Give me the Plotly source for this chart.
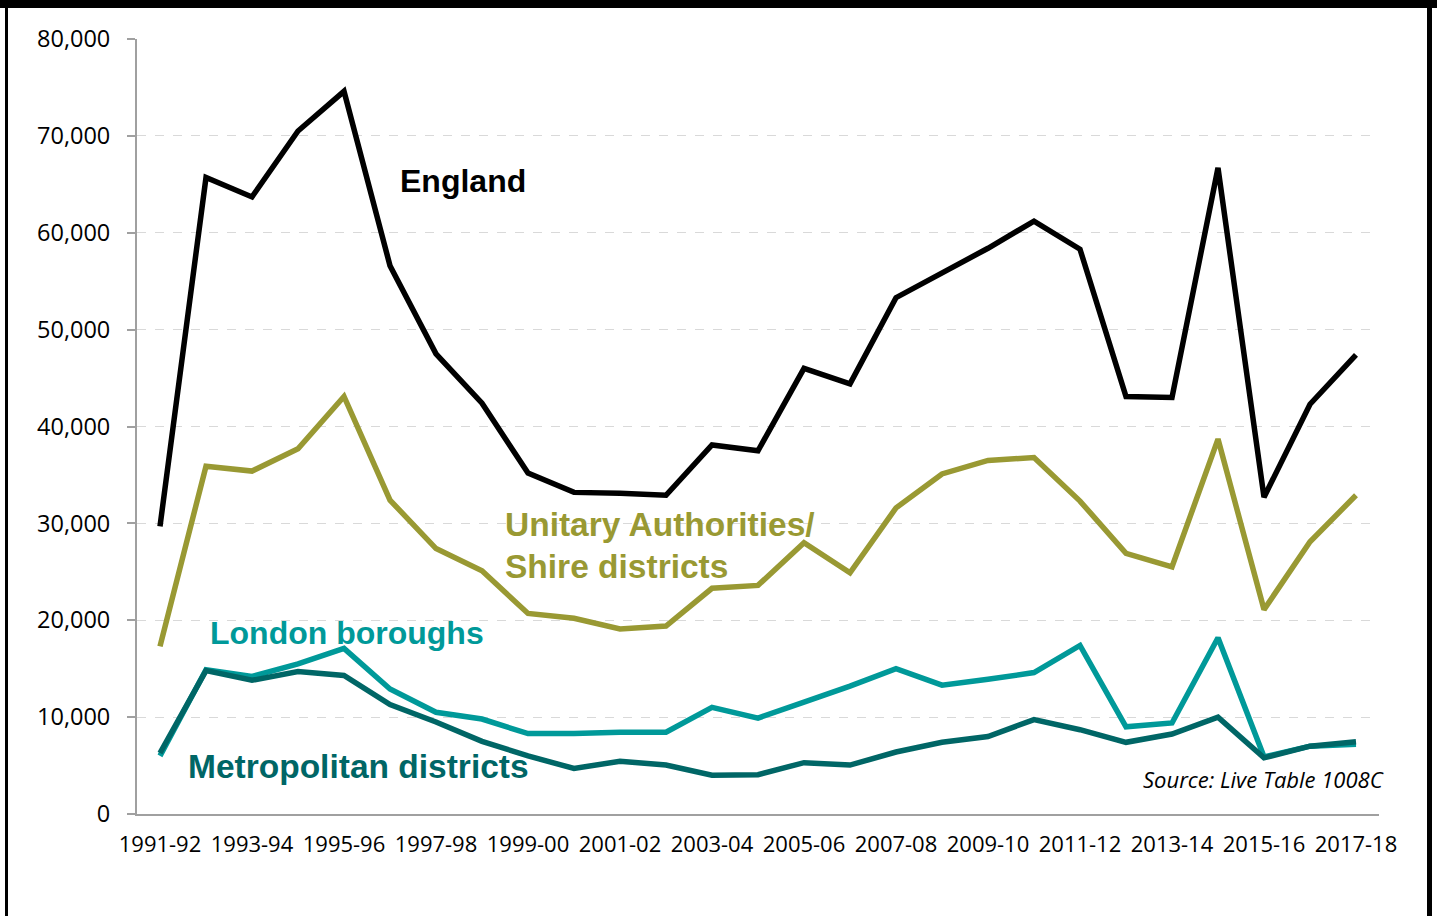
import plotly.graph_objects as go

years = ["1991-92", "1992-93", "1993-94", "1994-95", "1995-96", "1996-97", "1997-98",
         "1998-99", "1999-00", "2000-01", "2001-02", "2002-03", "2003-04", "2004-05",
         "2005-06", "2006-07", "2007-08", "2008-09", "2009-10", "2010-11", "2011-12",
         "2012-13", "2013-14", "2014-15", "2015-16", "2016-17", "2017-18"]

england = [29700, 65700, 63700, 70500, 74600, 56600, 47500, 42400, 35200, 33200, 33100,
           32900, 38100, 37500, 46000, 44400, 53300, 55800, 58400, 61200, 58300, 43100,
           43000, 66700, 32700, 42300, 47400]

unitary_shire = [17300, 35900, 35400, 37700, 43100, 32400, 27400, 25100, 20700, 20200,
                 19100, 19400, 23300, 23600, 28000, 24900, 31600, 35100, 36500, 36800,
                 32300, 26900, 25500, 38700, 21100, 28100, 32900]

london = [6000, 14900, 14200, 15500, 17100, 12900, 10500, 9800, 8300, 8300, 8450, 8450,
          11000, 9900, 11550, 13200, 15000, 13300, 13900, 14600, 17400, 9000, 9400, 18200,
          5900, 7000, 7200]

metropolitan = [6300, 14800, 13800, 14700, 14300, 11300, 9500, 7500, 6000, 4700, 5450,
                5050, 4000, 4050, 5300, 5050, 6400, 7400, 8000, 9750, 8700, 7400, 8250,
                10000, 5800, 7000, 7450]

tick_labels = years[::2]
y_ticks = [0, 10000, 20000, 30000, 40000, 50000, 60000, 70000, 80000]

C_ENG = "#000000"
C_UNI = "#999933"
C_LON = "#009999"
C_MET = "#006666"

fig = go.Figure()
for name, vals, col in [("England", england, C_ENG),
                        ("Unitary Authorities/Shire districts", unitary_shire, C_UNI),
                        ("London boroughs", london, C_LON),
                        ("Metropolitan districts", metropolitan, C_MET)]:
    fig.add_trace(go.Scatter(x=years, y=vals, mode="lines", name=name,
                             line=dict(color=col, width=5.5, shape="linear"),
                             hoverinfo="x+y+name"))

W, H = 1437, 916
L, R, T, B = 137, 58, 39, 102
pw, ph = W - L - R, H - T - B


def px(xp):
    return (xp - L) / pw


def py(yp):
    return (H - B - yp) / ph


shapes = [
    dict(type="rect", xref="paper", yref="paper", x0=px(0), x1=px(W), y0=py(0), y1=py(8),
         fillcolor="black", line=dict(width=0), layer="above"),
    dict(type="rect", xref="paper", yref="paper", x0=px(5), x1=px(8), y0=py(0), y1=py(H),
         fillcolor="black", line=dict(width=0), layer="above"),
    dict(type="rect", xref="paper", yref="paper", x0=px(1427), x1=px(1432), y0=py(0), y1=py(H),
         fillcolor="black", line=dict(width=0), layer="above"),
]

lab_font = "Liberation Sans, Arial, sans-serif"
annotations = [
    dict(text="<b>England</b>", x=5.17, y=65300, xanchor="left", yanchor="middle",
         xref="x", yref="y", font=dict(family=lab_font, size=32, color=C_ENG)),
    dict(text="<b>Unitary Authorities/</b>", x=7.46, y=29900, xanchor="left", yanchor="middle",
         xref="x", yref="y", font=dict(family=lab_font, size=33.5, color=C_UNI)),
    dict(text="<b>Shire districts</b>", x=7.46, y=25600, xanchor="left", yanchor="middle",
         xref="x", yref="y", font=dict(family=lab_font, size=33.5, color=C_UNI)),
    dict(text="<b>London boroughs</b>", x=1.04, y=18700, xanchor="left", yanchor="middle",
         xref="x", yref="y", font=dict(family=lab_font, size=32, color=C_LON)),
    dict(text="<b>Metropolitan districts</b>", x=0.565, y=4950, xanchor="left", yanchor="middle",
         xref="x", yref="y", font=dict(family=lab_font, size=33.5, color=C_MET)),
    dict(text="<i>Source: Live Table 1008C</i>", x=px(1386), y=py(779), xanchor="right",
         yanchor="middle", xref="paper", yref="paper",
         font=dict(family="Open Sans, sans-serif", size=22, color="black")),
]
for a in annotations:
    a.update(showarrow=False)

fig.update_layout(
    width=W, height=H,
    margin=dict(l=L, r=R, t=T, b=B, pad=0),
    paper_bgcolor="white", plot_bgcolor="white",
    showlegend=False,
    shapes=shapes,
    annotations=annotations,
    font=dict(family="Open Sans, sans-serif", color="black"),
)
fig.update_xaxes(
    type="category", range=[-0.5, 26.5],
    tickmode="array", tickvals=tick_labels, ticktext=tick_labels,
    tickfont=dict(size=22, color="black"),
    showline=True, linecolor="#A0A0A0", linewidth=2,
    showgrid=False, ticks="", ticklabelstandoff=10, zeroline=False,
)
fig.update_yaxes(
    range=[0, 80000], tickvals=y_ticks, tickformat=",",
    tickfont=dict(size=23.5, color="black"),
    showline=True, linecolor="#A0A0A0", linewidth=2,
    ticks="outside", ticklen=8, tickcolor="#A0A0A0", tickwidth=2,
    ticklabelstandoff=12,
    showgrid=True, gridcolor="#D9D9D9", gridwidth=1, griddash="dash",
    zeroline=False,
)

fig.write_html("out.html", config={"displayModeBar": False},
               post_script="document.body.style.margin='0';document.body.style.overflow='hidden';")
